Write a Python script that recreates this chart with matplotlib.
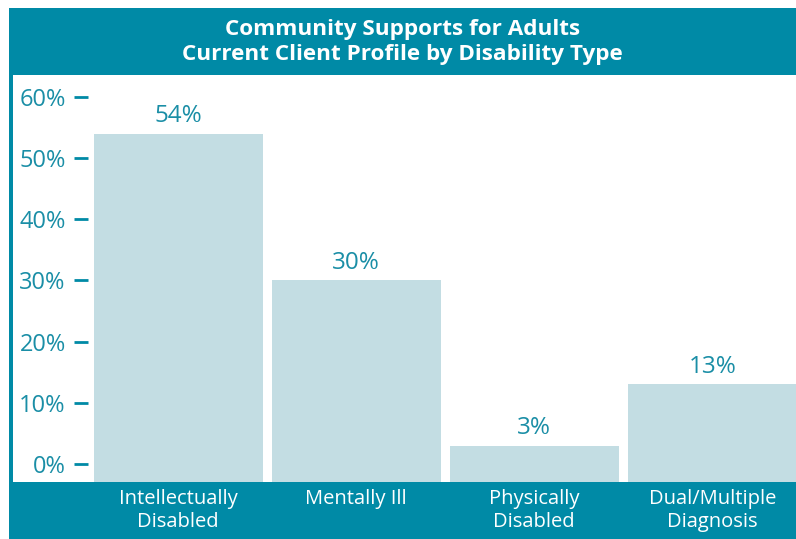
import matplotlib.pyplot as plt
import matplotlib.transforms as mtransforms
from matplotlib.patches import Rectangle
import numpy as np

categories = ["Intellectually\nDisabled", "Mentally Ill", "Physically\nDisabled", "Dual/Multiple\nDiagnosis"]
values = [54, 30, 3, 13]
yticks = [0, 10, 20, 30, 40, 50, 60]
title = "Community Supports for Adults\nCurrent Client Profile by Disability Type"

teal = "#008aa6"
bar_color = "#c3dde3"
text_teal = "#1a8ea6"
plt.rcParams["font.family"] = ["Open Sans", "DejaVu Sans"]

W, H = 796, 539
fig = plt.figure(figsize=(W / 100, H / 100), dpi=100)


def px(x0, y0, x1, y1):
    # pixel box (top-left origin) -> figure fraction rect
    return (x0 / W, 1 - y1 / H, (x1 - x0) / W, (y1 - y0) / H)


# title band, bottom band, left frame line
for box in [px(9, 8, 796, 75), px(9, 482, 796, 539), px(9, 75, 13, 482)]:
    fig.patches.append(Rectangle(box[:2], box[2], box[3], transform=fig.transFigure,
                                 facecolor=teal, edgecolor="none", zorder=0))

fig.text((9 + 796) / 2 / W, 1 - 42 / H, title, ha="center", va="center", color="white",
         fontsize=16.2, fontweight="bold", linespacing=1.2)

ax = fig.add_axes(px(88, 75, 796, 482))
ax.set_zorder(2)
ymin, ymax = -2.94, 63.56
x = np.arange(len(values))
ax.bar(x, np.array(values) - ymin, bottom=ymin, width=0.95, color=bar_color, zorder=2)
ax.set_ylim(ymin, ymax)
ax.set_xlim(-0.506, 3.47)

for xi, v in zip(x, values):
    ax.annotate(f"{v}%", (xi, v), xytext=(0, 4), textcoords="offset points",
                ha="center", va="bottom", color=text_teal, fontsize=17.5)

trans = mtransforms.blended_transform_factory(ax.transData, ax.transAxes)
for xi, c in zip(x, categories):
    ax.text(xi, -0.017, c, transform=trans, ha="center", va="top", color="white",
            fontsize=14.5, linespacing=1.2)

ax.set_yticks(yticks)
ax.set_yticklabels([f"{t}%" for t in yticks])
ax.tick_params(axis="y", length=10, width=2, color=teal, pad=6, labelcolor=text_teal, labelsize=17)
ax.set_xticks([])
for s in ax.spines.values():
    s.set_visible(False)
ax.patch.set_alpha(0)

fig.savefig("out.png", dpi=100)
